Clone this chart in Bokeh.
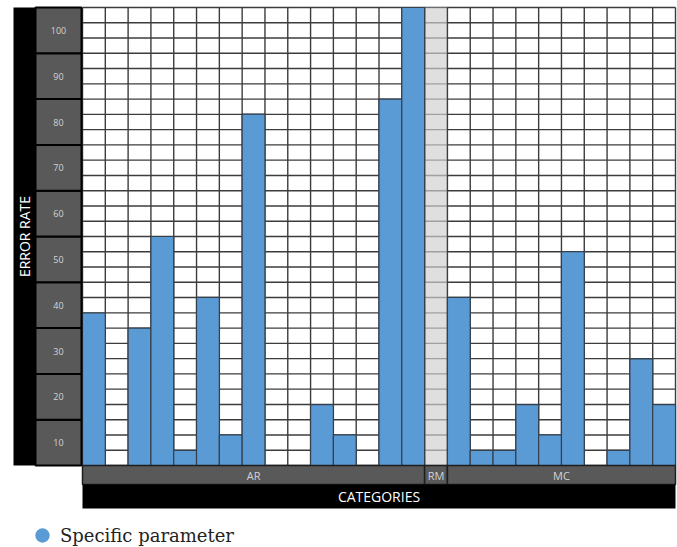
from bokeh.plotting import figure
from bokeh.models import Range1d, ColumnDataSource, Legend, LegendItem
from bokeh.core.properties import value
from bokeh.embed import file_html
from bokeh.resources import INLINE

# ---------------- data ----------------
group_names = ["AR", "RM", "MC"]
ar_values = [33.3, 0, 30, 50, 3.3, 36.7, 6.7, 76.7, 0, 0, 13.3, 6.7, 0, 80, 100]
rm_values = [0]
mc_values = [36.7, 3.3, 3.3, 13.3, 6.7, 46.7, 0, 3.3, 23.3, 13.3]
y_ticks = [10, 20, 30, 40, 50, 60, 70, 80, 90, 100]
y_title = "ERROR RATE"
x_title = "CATEGORIES"
series_name = "Specific parameter"

# ---------------- styles / layout (canvas px) ----------------
W, H = 677, 547
PLOT_L, PLOT_R, PLOT_T, PLOT_B = 82, 675, 7, 465
STRIP_L, STRIP_R = 13, 35
BLOCK_L, BLOCK_R = 35, 81
BAND1_B, BAND2_B = 484, 508
LEG_CX, LEG_CY, LEG_GW, LEG_GH = 42, 535, 36, 40
BAR = "#5b9bd5"
GRID = "#3c3c3c"
DARK_GRAY = "#595959"
LIGHT_TXT = "#d4d4d4"
SANS = "Open Sans"

groups = [ar_values, rm_values, mc_values]
values = ar_values + rm_values + mc_values
ncols = len(values)
vmax = y_ticks[-1]
cw = (PLOT_R - PLOT_L) / ncols
ppu = (PLOT_B - PLOT_T) / vmax


def dx(px):
    return (px - PLOT_L) / cw


def dy(py):
    return (PLOT_B - py) / ppu


p = figure(width=W, height=H, x_range=Range1d(dx(0), dx(W)), y_range=Range1d(dy(H), dy(0)),
           output_backend="svg", toolbar_location=None, min_border=0,
           x_axis_location=None, y_axis_location=None,
           outline_line_color=None, background_fill_color="white", border_fill_color="white")
p.grid.visible = False

# grid (rows of one third of a tick step)
step = (y_ticks[1] - y_ticks[0]) / 3
nrows = int(round(vmax / step))
hy = [i * step for i in range(nrows + 1)]
p.segment(x0=[0] * len(hy), y0=hy, x1=[ncols] * len(hy), y1=hy, line_color=GRID, line_width=1.4)

# RM shaded column
starts = []
s = 0
for g in groups:
    starts.append(s)
    s += len(g)
rm_i = group_names.index("RM")
p.quad(left=[starts[rm_i]], right=[starts[rm_i] + len(rm_values)], bottom=[0], top=[vmax],
       fill_color="#d0d0d0", fill_alpha=0.68, line_color=None)

vx = list(range(ncols + 1))
p.segment(x0=vx, y0=[0] * len(vx), x1=vx, y1=[vmax] * len(vx), line_color=GRID, line_width=1.4)

# bars
src = ColumnDataSource(dict(x=[i + 0.5 for i in range(ncols)], top=values))
p.vbar(x="x", top="top", bottom=0, width=1, source=src, fill_color=BAR,
       line_color="#34404c", line_width=1.2)

# y axis decoration
p.quad(left=[dx(STRIP_L)], right=[dx(STRIP_R)], bottom=[0], top=[vmax], fill_color="black", line_color=None)
p.quad(left=[dx(BLOCK_L)] * len(y_ticks), right=[dx(BLOCK_R)] * len(y_ticks),
       bottom=[t - 10 for t in y_ticks], top=y_ticks,
       fill_color=DARK_GRAY, line_color="black", line_width=2)
p.text(x=[dx((BLOCK_L + BLOCK_R) / 2)] * len(y_ticks), y=[t - 5 for t in y_ticks],
       text=[str(t) for t in y_ticks], text_font=value(SANS), text_font_size="9px",
       text_color=LIGHT_TXT, text_align="center", text_baseline="middle")
p.text(x=[dx((STRIP_L + STRIP_R) / 2)], y=[vmax / 2], text=[y_title], angle=1.5707963,
       text_font=value(SANS), text_font_size="14px", text_color="white",
       text_align="center", text_baseline="middle")

# x axis decoration
ends = [st + len(g) for st, g in zip(starts, groups)]
p.quad(left=starts, right=ends, bottom=[dy(BAND1_B)] * 3, top=[0] * 3,
       fill_color=DARK_GRAY, line_color="#1e1e1e", line_width=1.5)
p.text(x=[(a + b) / 2 for a, b in zip(starts, ends)], y=[dy((PLOT_B + BAND1_B) / 2)] * 3,
       text=group_names, text_font=value(SANS), text_font_size="11px", text_color=LIGHT_TXT,
       text_align="center", text_baseline="middle")
p.quad(left=[0], right=[ncols], bottom=[dy(BAND2_B)], top=[dy(BAND1_B)], fill_color="black", line_color=None)
p.text(x=[ncols / 2], y=[dy((BAND1_B + BAND2_B) / 2)], text=[x_title], text_font=value(SANS),
       text_font_size="14px", text_color="white", text_align="center", text_baseline="middle")

# legend (marker source holds one undrawn point so the legend glyph is rendered)
leg_r = p.scatter(x=[float("nan")], y=[float("nan")], marker="circle", size=16,
                  fill_color=BAR, line_color=None)
legend = Legend(items=[LegendItem(label=series_name, renderers=[leg_r])],
                location=(LEG_CX - LEG_GW / 2, H - LEG_CY - LEG_GH / 2),
                glyph_width=LEG_GW, glyph_height=LEG_GH, label_standoff=0,
                padding=0, margin=0, border_line_color=None, background_fill_alpha=0,
                label_text_font="DejaVu Serif", label_text_font_size="18px",
                label_text_color="#222222")
p.add_layout(legend)

open("out.html", "w").write(file_html(p, INLINE))
